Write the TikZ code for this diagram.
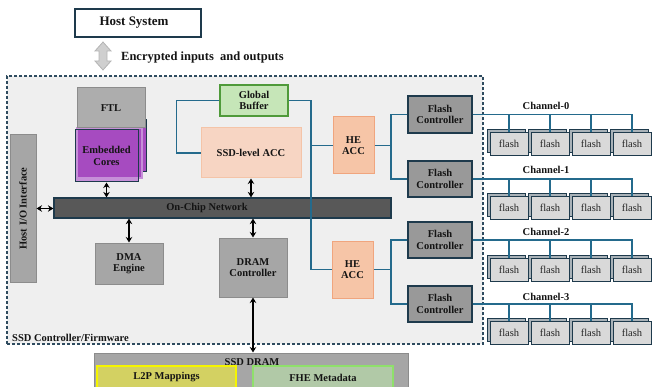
\documentclass[tikz,border=0pt]{standalone}
\usepackage{fontspec}
\setmainfont{Liberation Serif}
\usetikzlibrary{shadows,arrows.meta}

\definecolor{darkedge}{HTML}{1E3A4C}
\definecolor{frameedge}{HTML}{2E4B5F}
\definecolor{framefill}{HTML}{EFEFEF}
\definecolor{linkblue}{HTML}{246A8C}
\definecolor{boxgray}{HTML}{A6A6A6}
\definecolor{ftlgray}{HTML}{ADADAD}
\definecolor{boxedge}{HTML}{8C8C8C}
\definecolor{fcgray}{HTML}{999999}
\definecolor{ocngray}{HTML}{585858}
\definecolor{gbfill}{HTML}{C6E6B8}
\definecolor{gbedge}{HTML}{4F9A3A}
\definecolor{accfill}{HTML}{F7D5C3}
\definecolor{accedge}{HTML}{F4C4A8}
\definecolor{hefill}{HTML}{F6C5A7}
\definecolor{heedge}{HTML}{F0A57E}
\definecolor{corepurple}{HTML}{A64BC0}
\definecolor{corelight}{HTML}{C68FD8}
\definecolor{chipfill}{HTML}{D9D9D9}
\definecolor{chipback}{HTML}{A9B2B8}
\definecolor{l2pfill}{HTML}{D3D162}
\definecolor{l2pedge}{HTML}{F5F500}
\definecolor{fhefill}{HTML}{B1C9A7}
\definecolor{fheedge}{HTML}{8FE06B}
\definecolor{arrowgray}{HTML}{CFCFCF}
\definecolor{arrowedge}{HTML}{B5B5B5}

\tikzset{
  sz/.style 2 args={minimum width=#1pt, minimum height=#2pt},
  lbl/.style={font=\fontsize{10.5}{11.5}\selectfont\bfseries, text=black!92, align=center, inner sep=0pt},
  gbox/.style={lbl, draw=boxedge, fill=boxgray, line width=1pt},
  fcbox/.style={lbl, draw=darkedge, fill=fcgray, line width=1.3pt},
  hebox/.style={lbl, draw=heedge, fill=hefill, line width=1pt},
  frame/.style={draw=frameedge, fill=framefill, line width=1.2pt, dash pattern=on 3pt off 2pt},
  link/.style={draw=linkblue, line width=1.2pt},
  dbl/.style={{Stealth[length=5.5pt,width=6.5pt]}-{Stealth[length=5.5pt,width=6.5pt]}, line width=1.4pt, black},
  chip/.style={draw=darkedge, fill=chipfill, line width=0.8pt, sz={38}{23}, inner sep=0pt,
    font=\fontsize{10.5}{11.5}\selectfont, text=black!85,
    copy shadow={shadow xshift=-3pt, shadow yshift=3pt, fill=chipback, draw=darkedge, line width=0.8pt}},
  chlabel/.style={lbl}
}

\begin{document}
\begin{tikzpicture}[x=1pt, y=-1pt]
\useasboundingbox (0,0) rectangle (652,387);
\clip (0,0) rectangle (652,387);

% controller / firmware frame
\node[frame, sz={476}{268}] (fw) at (245,210) {};
\node[lbl, anchor=west] (fwlabel) at (12,338) {SSD Controller/Firmware};

% host side
\node[lbl, font=\fontsize{13}{14}\selectfont\bfseries, draw=darkedge, fill=white, line width=1.3pt, sz={126}{28}] (host) at (138,23) {Host System\hspace{8pt}};
\filldraw[fill=arrowgray, draw=arrowedge, line width=0.8pt]
  (103,42) -- (111,51) -- (107,51) -- (107,61) -- (111,61) -- (103,70)
  -- (95,61) -- (99,61) -- (99,51) -- (95,51) -- cycle;
\node[lbl, font=\fontsize{12.5}{14}\selectfont\bfseries, anchor=west] (enc) at (121,58) {Encrypted inputs\ \ and outputs};

% embedded cores stack and FTL
\node[fill=corelight, sz={63}{52}] (corebase) at (106.5,156) {};
\node[fill=corepurple, draw=darkedge, line width=1pt, sz={63}{52}] (coreback) at (114.5,146) {};
\node[fill=corepurple, draw=corelight, line width=1.3pt, sz={65}{50}] (coremid) at (109.5,153) {};
\node[lbl, draw=darkedge, line width=1pt, sz={63}{52}] (cores) at (106.5,156) {Embedded\\Cores};
\node[gbox, fill=ftlgray, sz={68}{40}] (ftl) at (111,108) {FTL};

% host interface and on-chip network
\node[gbox, sz={26}{147}] (hostio) at (23,208.5) {\rotatebox{90}{Host I/O Interface}};
\node[lbl, draw=darkedge, fill=ocngray, line width=1.2pt, sz={337}{20}] (ocn) at (222.5,208) {On-Chip Network\hspace{31pt}};

% accelerators and buffer
\node[lbl, draw=gbedge, fill=gbfill, line width=1.2pt, sz={68}{31}] (gbuf) at (254,100.5) {Global\\Buffer};
\node[lbl, draw=accedge, fill=accfill, line width=1pt, sz={100}{50}] (ssdacc) at (251,153) {SSD-level ACC};
\node[hebox, sz={41}{57}] (he1) at (353.5,145.5) {HE\\ACC};
\node[hebox, sz={41}{57}] (he2) at (352.5,269.5) {HE\\ACC};

% engines
\node[gbox, sz={68}{41}] (dma) at (129,263.5) {DMA\\Engine};
\node[gbox, sz={68}{59}] (dramc) at (253,267.5) {DRAM\\Controller};

% flash controllers
\node[fcbox, sz={64}{37}] (fc0) at (440,114.5) {Flash\\Controller};
\node[fcbox, sz={64}{36}] (fc1) at (440,179) {Flash\\Controller};
\node[fcbox, sz={64}{36}] (fc2) at (440,240) {Flash\\Controller};
\node[fcbox, sz={64}{36}] (fc3) at (440,304) {Flash\\Controller};

% SSD DRAM
\node[draw=boxedge, fill=boxgray, line width=1pt, sz={314}{48}] (dram) at (251,377) {};
\node[lbl] (dramlabel) at (252,362) {SSD DRAM};
\node[lbl, draw=l2pedge, fill=l2pfill, line width=1.5pt, sz={139}{36}] (l2p) at (166.5,384) {};
\node[lbl] (l2plabel) at (166.5,377.5) {L2P Mappings};
\node[lbl, draw=fheedge, fill=fhefill, line width=1.5pt, sz={140}{36}] (fhe) at (323,384) {};
\node[lbl] (fhelabel) at (323,377.5) {FHE Metadata};

% flash chips and channels
\foreach \r/\cy/\ly in {0/143.5/106, 1/208/170, 2/269.5/232, 3/332.5/297} {
  \foreach \k/\cx in {0/509, 1/550, 2/591, 3/632} {
    \node[chip] (c\r\k) at (\cx,\cy) {flash\hspace{6pt}};
  }
  \node[chlabel] (ch\r) at (546,\ly) {Channel-\r};
  \draw[link] (fc\r.east) -| (c\r3.north);
  \foreach \k in {0,1,2} {
    \draw[link] (c\r\k.north) -- (c\r\k.north |- fc\r.east);
  }
}

% accelerator links
\draw[link] (gbuf.west) -- ++(-43,0) |- (ssdacc.west);
\coordinate (bus) at (311,100.5);
\draw[link] (gbuf.east) -- (bus) |- (he2.west);
\draw[link] (he1.west) -- (he1.west -| bus);
\coordinate (split1) at (391,145.5);
\coordinate (split2) at (391,269.5);
\draw[link] (he1.east) -- (split1);
\draw[link] (fc0.west) -| (split1) |- (fc1.west);
\draw[link] (he2.east) -- (split2);
\draw[link] (fc2.west) -| (split2) |- (fc3.west);

% data paths over the network
\draw[dbl] (hostio.east) -- (hostio.east -| ocn.west);
\draw[dbl] (cores.south) -- (cores.south |- ocn.north);
\draw[dbl] (ssdacc.south) -- (ssdacc.south |- ocn.north);
\draw[dbl] (dma.north |- ocn.south) -- (dma.north);
\draw[dbl] (dramc.north |- ocn.south) -- (dramc.north);
\draw[dbl, line width=2pt] (dramc.south) -- (dramc.south |- dram.north);
\end{tikzpicture}
\end{document}
